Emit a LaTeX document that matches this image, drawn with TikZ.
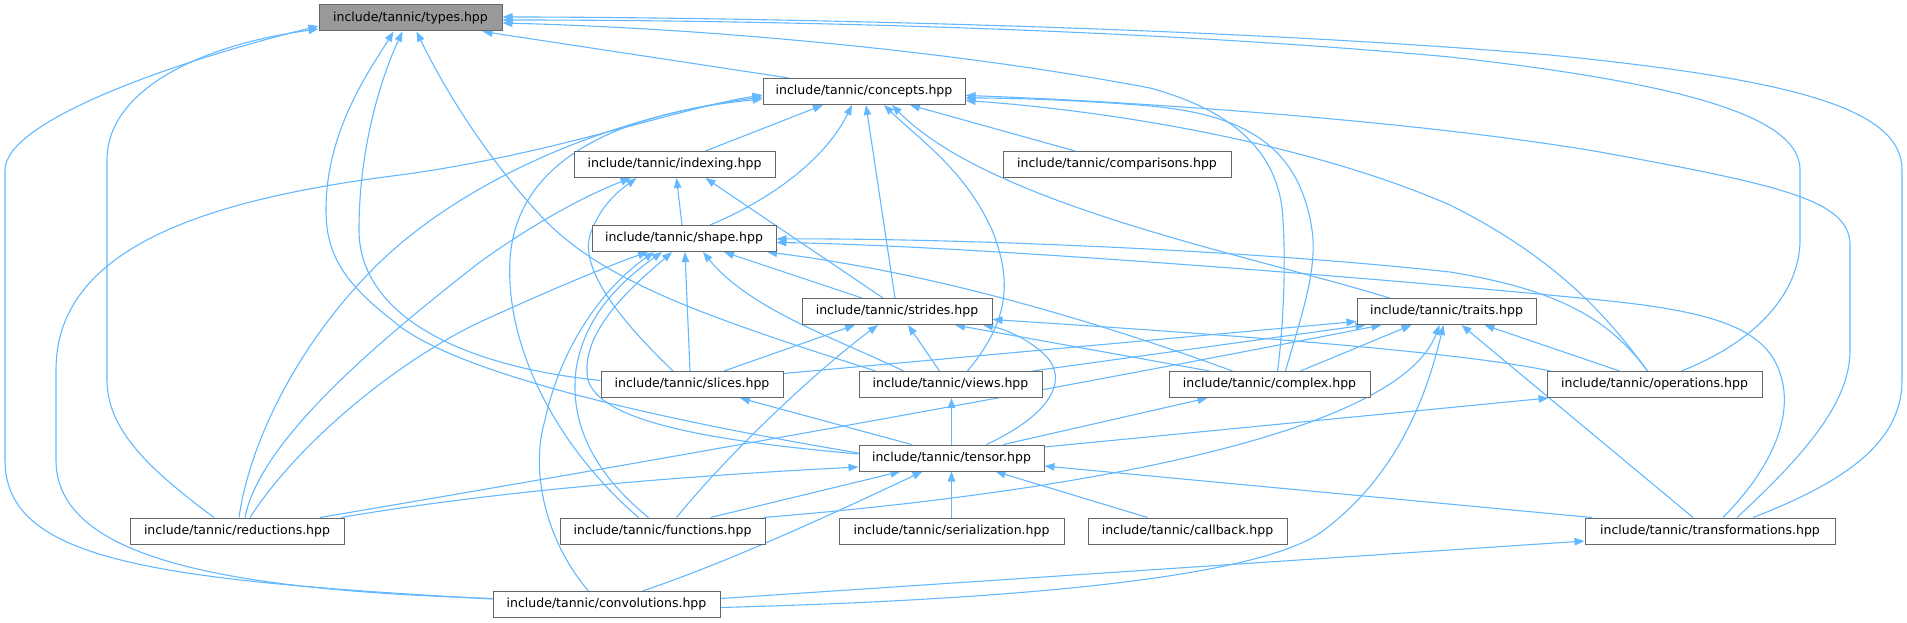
\documentclass[tikz,border=0pt]{standalone}
\usepackage{fontspec}
\setmainfont{DejaVu Sans}
\usetikzlibrary{arrows.meta}
\definecolor{edgeblue}{HTML}{63B8FF}
\definecolor{boxborder}{HTML}{666666}
\definecolor{mainfill}{HTML}{999999}
\pgfdeclarelayer{bg}
\pgfsetlayers{bg,main}
\begin{document}
\begin{tikzpicture}[x=1pt,y=-1pt,
  box/.style={draw=boxborder, fill=white, line width=1pt, minimum height=26pt, inner sep=0pt, font=\fontsize{12.5}{15}\selectfont, text=black},
  dep/.style={draw=edgeblue, line width=1.1pt, -{Triangle[length=10pt,width=7.5pt]}}]
\useasboundingbox (0,0) rectangle (1907,623);
% nodes
\node[box, fill=mainfill, minimum width=183pt] (types) at (410.5,18) {include/tannic/types.hpp};
\node[box, minimum width=202pt] (concepts) at (864,91.5) {include/tannic/concepts.hpp};
\node[box, minimum width=201pt] (indexing) at (674.5,164.5) {include/tannic/indexing.hpp};
\node[box, minimum width=228pt] (comparisons) at (1117,164.5) {include/tannic/comparisons.hpp};
\node[box, minimum width=184pt] (shape) at (684,238.5) {include/tannic/shape.hpp};
\node[box, minimum width=190pt] (strides) at (897,311.5) {include/tannic/strides.hpp};
\node[box, minimum width=179pt] (traits) at (1446.5,311.5) {include/tannic/traits.hpp};
\node[box, minimum width=182pt] (slices) at (692,384.5) {include/tannic/slices.hpp};
\node[box, minimum width=183pt] (views) at (950.5,384.5) {include/tannic/views.hpp};
\node[box, minimum width=201pt] (complex) at (1269.5,384.5) {include/tannic/complex.hpp};
\node[box, minimum width=215pt] (operations) at (1654.5,384.5) {include/tannic/operations.hpp};
\node[box, minimum width=185pt] (tensor) at (951.5,458) {include/tannic/tensor.hpp};
\node[box, minimum width=214pt] (reductions) at (237,531) {include/tannic/reductions.hpp};
\node[box, minimum width=205pt] (functions) at (662.5,531) {include/tannic/functions.hpp};
\node[box, minimum width=225pt] (serialization) at (951.5,531) {include/tannic/serialization.hpp};
\node[box, minimum width=199pt] (callback) at (1187.5,531) {include/tannic/callback.hpp};
\node[box, minimum width=250pt] (transformations) at (1710,531) {include/tannic/transformations.hpp};
\node[box, minimum width=227pt] (convolutions) at (606.5,604.5) {include/tannic/convolutions.hpp};
\begin{pgfonlayer}{bg}
% into types
\draw[dep] ([xshift=-75pt]concepts.north) -- ([xshift=72pt]types.south);
\draw[dep] ([yshift=5.5pt]convolutions.west) .. controls (150,580) and (5,560) .. (5,460) -- (5,170) .. controls (5,120) and (180,60) .. ([yshift=-8pt]types.west);
\draw[dep] ([xshift=-23pt]reductions.north) .. controls (150,470) and (107,430) .. (107,380) -- (107,160) .. controls (107,90) and (200,45) .. ([yshift=-11pt]types.west);
\draw[dep] ([yshift=4pt]slices.west) .. controls (450,365) and (359,310) .. (359,230) .. controls (359,150) and (380,80) .. ([xshift=-8pt]types.south);
\draw[dep] ([yshift=5pt]tensor.west) .. controls (650,418) and (450,372) .. (392,320) .. controls (340,280) and (326,250) .. (326,210) .. controls (326,130) and (370,70) .. ([xshift=-17pt]types.south);
\draw[dep] ([xshift=-75pt]views.north) .. controls (700,315) and (600,280) .. (540,215) .. controls (480,150) and (440,80) .. ([xshift=6pt]types.south);
\draw[dep] ([xshift=8pt]complex.north) .. controls (1283,330) and (1286,270) .. (1283,220) .. controls (1280,150) and (1230,110) .. (1150,88) .. controls (950,50) and (700,28) .. ([yshift=-5pt]types.east);
\draw[dep] ([xshift=27pt]operations.north) .. controls (1760,340) and (1800,290) .. (1800,240) -- (1800,170) .. controls (1800,120) and (1700,85) .. (1450,57) .. controls (1100,25) and (700,20) .. ([yshift=-2pt]types.east);
\draw[dep] ([xshift=43pt]transformations.north) .. controls (1850,480) and (1902,440) .. (1902,380) -- (1902,170) .. controls (1902,110) and (1800,80) .. (1550,55) .. controls (1200,25) and (700,17) .. ([yshift=1pt]types.east);
% into concepts
\draw[dep] ([xshift=31pt]indexing.north) -- ([xshift=-41pt]concepts.south);
\draw[dep] ([xshift=-42pt]comparisons.north) -- ([xshift=46pt]concepts.south);
\draw[dep] ([xshift=26pt]shape.north) .. controls (770,200) and (825,160) .. ([xshift=-12pt]concepts.south);
\draw[dep] ([xshift=-2pt]strides.north) -- ([xshift=2pt]concepts.south);
\draw[dep] ([xshift=17pt]views.north) .. controls (1010,320) and (1012,280) .. (992,230) .. controls (965,170) and (920,140) .. ([xshift=20pt]concepts.south);
\draw[dep] ([xshift=-57pt]traits.north) .. controls (1250,255) and (990,205) .. ([xshift=28pt]concepts.south);
\draw[dep] ([xshift=16pt]complex.north) .. controls (1300,320) and (1318,270) .. (1312,230) .. controls (1300,150) and (1250,115) .. (1150,106) .. controls (1080,100) and (1010,98) .. ([yshift=-6.5pt]concepts.east);
\draw[dep] ([xshift=-7pt]operations.north) .. controls (1610,320) and (1560,260) .. (1450,205) .. controls (1300,140) and (1100,110) .. ([yshift=-9pt]concepts.east);
\draw[dep] ([xshift=27pt]transformations.north) .. controls (1810,450) and (1850,400) .. (1850,350) -- (1850,245) .. controls (1850,200) and (1780,185) .. (1600,152) .. controls (1400,118) and (1100,100) .. ([yshift=-4pt]concepts.east);
\draw[dep] ([yshift=6pt]convolutions.west) .. controls (230,590) and (56,560) .. (56,460) -- (56,370) .. controls (56,250) and (200,200) .. (400,175) .. controls (550,155) and (680,108) .. ([yshift=-3.5pt]concepts.west);
\draw[dep] ([xshift=2pt]reductions.north) .. controls (250,440) and (300,340) .. (380,262) .. controls (460,185) and (600,118) .. ([yshift=-5.5pt]concepts.west);
\draw[dep] ([xshift=-24pt]functions.north) .. controls (560,450) and (505,350) .. (510,260) .. controls (515,170) and (600,115) .. ([yshift=-7.5pt]concepts.west);
% into indexing
\draw[dep] ([xshift=-2pt]shape.north) -- ([xshift=2pt]indexing.south);
\draw[dep] ([xshift=-14pt]strides.north) -- ([xshift=31pt]indexing.south);
\draw[dep] ([xshift=8pt]reductions.north) .. controls (260,440) and (380,340) .. (480,262) .. controls (550,212) and (600,190) .. ([xshift=-44pt]indexing.south);
\draw[dep] ([xshift=-19pt]slices.north) .. controls (620,320) and (580,270) .. (590,235) .. controls (600,205) and (620,190) .. ([xshift=-38pt]indexing.south);
% into shape
\draw[dep] ([xshift=13pt]reductions.north) .. controls (300,440) and (400,360) .. (480,322) .. controls (550,290) and (610,265) .. ([xshift=-36pt]shape.south);
\draw[dep] ([xshift=-18pt]convolutions.north) .. controls (545,540) and (530,470) .. (545,420) .. controls (560,350) and (600,290) .. ([xshift=-30pt]shape.south);
\draw[dep] ([xshift=-14pt]functions.north) .. controls (590,470) and (570,420) .. (576,370) .. controls (585,310) and (630,275) .. ([xshift=-22pt]shape.south);
\draw[dep] ([yshift=4pt]tensor.west) .. controls (700,440) and (600,420) .. (588,380) .. controls (578,330) and (640,280) .. ([xshift=-12pt]shape.south);
\draw[dep] ([xshift=-2pt]slices.north) -- ([xshift=1pt]shape.south);
\draw[dep] ([xshift=-47pt]views.north) .. controls (840,340) and (750,310) .. ([xshift=19pt]shape.south);
\draw[dep] ([xshift=-35pt]strides.north) -- ([xshift=40pt]shape.south);
\draw[dep] ([xshift=-37pt]complex.north) .. controls (1120,330) and (950,275) .. ([xshift=83pt]shape.south);
\draw[dep] ([xshift=-7pt]operations.north) .. controls (1610,320) and (1560,290) .. (1450,272) .. controls (1250,250) and (950,238) .. ([yshift=-0.5pt]shape.east);
\draw[dep] ([xshift=13pt]transformations.north) .. controls (1770,470) and (1792,420) .. (1782,380) .. controls (1770,330) and (1720,312) .. (1600,300) .. controls (1350,275) and (950,245) .. ([yshift=-4pt]shape.east);
% into strides
\draw[dep] ([xshift=32pt]slices.north) -- ([xshift=-42pt]strides.south);
\draw[dep] ([xshift=-11pt]views.north) -- ([xshift=11pt]strides.south);
\draw[dep] ([xshift=-60pt]complex.north) -- ([xshift=58pt]strides.south);
\draw[dep] ([xshift=35pt]tensor.north) .. controls (1050,415) and (1070,380) .. (1045,355) .. controls (1025,336) and (1000,328) .. ([xshift=86pt]strides.south);
\draw[dep] ([xshift=14pt]functions.north) .. controls (740,440) and (830,360) .. ([xshift=-19pt]strides.south);
\draw[dep] ([xshift=-104pt]operations.north) .. controls (1450,350) and (1200,333) .. ([yshift=-8pt]strides.east);
% into traits
\draw[dep] ([yshift=11pt]slices.east) -- ([yshift=-10pt]traits.west);
\draw[dep] ([xshift=82pt]views.north) -- ([xshift=-81pt]traits.south);
\draw[dep] ([xshift=83pt]reductions.north) .. controls (600,470) and (1000,400) .. ([xshift=-65pt]traits.south);
\draw[dep] ([xshift=31pt]complex.north) -- ([xshift=-35pt]traits.south);
\draw[dep] ([xshift=101pt]functions.north) .. controls (1100,490) and (1400,430) .. ([xshift=-7pt]traits.south);
\draw[dep] ([yshift=-3pt]convolutions.east) .. controls (1000,600) and (1250,580) .. (1320,533) .. controls (1400,475) and (1428,390) .. ([xshift=-3pt]traits.south);
\draw[dep] ([xshift=-35pt]operations.north) -- ([xshift=38pt]traits.south);
\draw[dep] ([xshift=-17pt]transformations.north) -- ([xshift=15pt]traits.south);
% tensor includes
\draw[dep] ([xshift=-40pt]tensor.north) -- ([xshift=48pt]slices.south);
\draw[dep] (tensor.north) -- ([xshift=1pt]views.south);
\draw[dep] ([xshift=52pt]tensor.north) -- ([xshift=-62pt]complex.south);
\draw[dep] ([yshift=11pt]tensor.east) -- ([xshift=-106pt]operations.south);
% into tensor
\draw[dep] ([xshift=104pt]reductions.north) .. controls (500,490) and (700,475) .. ([yshift=-9pt]tensor.west);
\draw[dep] ([xshift=48pt]functions.north) -- ([xshift=-51pt]tensor.south);
\draw[dep] (serialization.north) -- (tensor.south);
\draw[dep] ([xshift=-40pt]callback.north) -- ([xshift=44pt]tensor.south);
\draw[dep] ([xshift=-118pt]transformations.north) -- ([yshift=-8pt]tensor.east);
\draw[dep] ([xshift=36pt]convolutions.north) .. controls (720,565) and (820,520) .. ([xshift=-29pt]tensor.south);
% into transformations
\draw[dep] ([yshift=6pt]convolutions.east) -- ([yshift=-10pt]transformations.west);
\end{pgfonlayer}
\end{tikzpicture}
\end{document}
